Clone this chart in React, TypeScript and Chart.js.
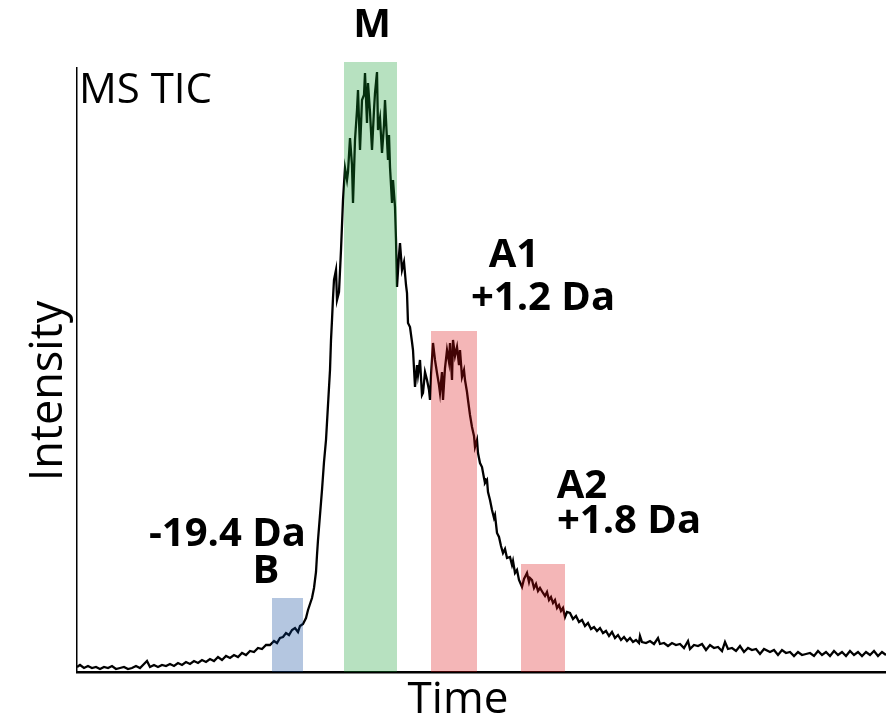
import React, { useEffect, useRef } from "react";
import { Chart, registerables } from "chart.js";

Chart.register(...registerables);

// Scan time (arbitrary units) and total ion current intensity (arbitrary units)
const scanTime: number[] = [
  0, 3, 7, 11, 15, 19, 23, 27, 31, 35, 39, 43, 47, 51, 55, 59, 63, 67, 70, 73,
  77, 81, 85, 89, 93, 97, 101, 105, 109, 113, 117, 121, 125, 129, 133, 137, 141, 145, 149, 153,
  157, 161, 165, 169, 173, 177, 181, 185, 189, 193, 197, 200, 203, 206, 209, 212, 215, 218, 221, 223,
  226, 229, 231, 233, 235, 237, 239, 240, 241, 243, 245, 247, 249, 251, 253, 254, 255, 256, 257, 259,
  260, 262, 264, 266, 268, 270, 271, 273, 275, 276, 278, 280, 281, 283, 285, 287, 288, 290, 291, 293,
  295, 297, 298, 300, 301, 303, 305, 307, 308, 310, 311, 312, 313, 315, 316, 318, 319, 320, 322, 323,
  325, 327, 329, 330, 331, 333, 335, 336, 338, 340, 341, 343, 345, 346, 348, 350, 352, 353, 354, 356,
  358, 360, 362, 363, 365, 366, 368, 370, 372, 373, 375, 376, 378, 380, 382, 383, 385, 387, 388, 390,
  391, 393, 395, 397, 398, 400, 401, 403, 405, 407, 408, 410, 411, 413, 415, 417, 418, 420, 422, 424,
  426, 428, 430, 433, 435, 436, 438, 440, 442, 445, 447, 448, 450, 452, 453, 455, 457, 459, 461, 463,
  466, 468, 470, 472, 474, 476, 478, 480, 482, 484, 486, 488, 490, 493, 496, 499, 502, 505, 508, 511,
  514, 517, 520, 523, 526, 529, 532, 535, 538, 541, 544, 547, 550, 553, 556, 559, 562, 563, 565, 569,
  573, 577, 581, 583, 587, 591, 595, 599, 603, 607, 611, 613, 617, 621, 625, 629, 633, 637, 641, 645,
  648, 651, 655, 659, 663, 667, 671, 675, 679, 683, 687, 693, 697, 701, 705, 709, 713, 717, 721, 725,
  729, 733, 737, 741, 745, 749, 753, 757, 761, 765, 769, 773, 777, 781, 785, 789, 793, 797, 801, 805,
  809,
];

const ticIntensity: number[] = [
  5, 7, 4, 6, 4, 5, 3, 5, 4, 6, 3, 4, 5, 3, 4, 6, 4, 8, 11, 5,
  7, 5, 7, 6, 8, 6, 9, 7, 10, 8, 11, 9, 12, 10, 13, 11, 15, 12, 16, 14,
  17, 15, 19, 17, 21, 20, 24, 23, 27, 27, 31, 29, 34, 35, 39, 37, 42, 44, 40, 46,
  48, 54, 62, 68, 74, 84, 100, 117, 132, 157, 182, 210, 232, 267, 302, 332, 352, 374, 392, 402,
  372, 380, 422, 472, 504, 492, 500, 534, 507, 469, 532, 562, 582, 522, 572, 577, 599, 549, 589, 560,
  522, 562, 579, 600, 542, 554, 519, 547, 572, 532, 512, 537, 505, 469, 492, 465, 432, 385, 417, 429,
  402, 410, 387, 379, 349, 345, 330, 322, 285, 307, 297, 312, 277, 279, 300, 292, 282, 272, 297, 329,
  312, 299, 287, 279, 300, 272, 304, 322, 310, 329, 292, 332, 316, 325, 307, 322, 295, 302, 292, 280,
  272, 257, 245, 236, 225, 232, 219, 209, 205, 194, 189, 192, 180, 172, 162, 154, 157, 139, 135, 126,
  119, 123, 114, 115, 107, 111, 99, 102, 92, 85, 93, 95, 99, 90, 94, 92, 84, 88, 81, 84,
  79, 76, 80, 72, 75, 69, 72, 64, 67, 61, 64, 55, 60, 59, 53, 56, 50, 52, 46, 49,
  43, 45, 41, 44, 39, 41, 36, 40, 34, 37, 32, 35, 31, 34, 30, 32, 29, 36, 30, 29,
  31, 28, 34, 28, 29, 26, 29, 27, 28, 24, 31, 23, 27, 26, 28, 22, 27, 24, 25, 21,
  30, 23, 24, 21, 26, 20, 24, 22, 23, 18, 23, 20, 22, 17, 22, 19, 20, 16, 20, 17,
  18, 19, 16, 21, 17, 20, 16, 21, 17, 20, 16, 21, 17, 20, 16, 20, 17, 21, 16, 20,
  17,
];

// Highlighted regions: start/end scan time, top intensity, colour
const regionNames: string[] = ["B", "M", "A1", "A2"];
const regionStart: number[] = [195, 267, 354, 444];
const regionEnd: number[] = [226, 320, 400, 488];
const regionTop: number[] = [74, 610, 341, 108];
const regionColors: string[] = [
  "rgba(5, 65, 152, 0.3)",
  "rgba(15, 155, 48, 0.3)",
  "rgba(218, 12, 18, 0.3)",
  "rgba(218, 12, 18, 0.3)",
];

const X_MAX = 809;
const Y_MAX = 604;

const overlayPlugin = {
  id: "regionOverlay",
  afterDatasetsDraw(chart: any) {
    const { ctx, scales } = chart;
    const xs = scales.x;
    const ys = scales.y;
    ctx.save();
    for (let i = 0; i < regionNames.length; i++) {
      const x0 = xs.getPixelForValue(regionStart[i]);
      const x1 = xs.getPixelForValue(regionEnd[i]);
      const yTop = ys.getPixelForValue(regionTop[i]);
      const yBot = ys.getPixelForValue(0);
      ctx.fillStyle = regionColors[i];
      ctx.fillRect(x0, yTop, x1 - x0, yBot - yTop);
    }
    ctx.restore();
  },
  afterDraw(chart: any) {
    const { ctx } = chart;
    ctx.save();
    ctx.fillStyle = "#000";
    ctx.textBaseline = "alphabetic";

    // Corner label
    ctx.font = "42px 'Open Sans'";
    ctx.textAlign = "left";
    ctx.fillText("MS TIC", 79, 103);

    // Axis titles
    ctx.font = "44px 'Open Sans'";
    ctx.textAlign = "center";
    ctx.fillText("Time", 458, 713);
    ctx.save();
    ctx.translate(62, 391);
    ctx.rotate(-Math.PI / 2);
    ctx.font = "45px 'Open Sans'";
    ctx.fillText("Intensity", 0, 0);
    ctx.restore();

    // Peak labels
    ctx.font = "bold 40px 'Open Sans'";
    ctx.textAlign = "center";
    ctx.fillText("M", 372, 37);
    ctx.fillText("A1", 514, 267);
    ctx.fillText("+1.2 Da", 543, 310);
    ctx.fillText("A2", 582, 498);
    ctx.fillText("+1.8 Da", 629, 533);
    ctx.fillText("B", 266, 583);
    ctx.textAlign = "right";
    ctx.fillText("-19.4 Da", 306, 546);
    ctx.restore();
  },
};

export default function App() {
  const canvasRef = useRef<HTMLCanvasElement | null>(null);

  useEffect(() => {
    if (!canvasRef.current) return;
    const points = scanTime.map((t, i) => ({ x: t, y: ticIntensity[i] }));
    const chart = new Chart(canvasRef.current, {
      type: "line",
      data: {
        datasets: [
          {
            label: "MS TIC",
            data: points,
            borderColor: "#000",
            borderWidth: 2.3,
            pointRadius: 0,
            tension: 0,
            fill: false,
            clip: false as any,
          },
        ],
      },
      options: {
        animation: false,
        responsive: false,
        maintainAspectRatio: false,
        events: [],
        layout: { padding: { left: 77, top: 68, right: 0, bottom: 49 } },
        plugins: {
          legend: { display: false },
          tooltip: { enabled: false },
          title: { display: false },
        },
        scales: {
          x: {
            type: "linear",
            min: 0,
            max: X_MAX,
            ticks: { display: false },
            grid: { display: false },
            border: { display: true, color: "#000", width: 2.5 },
            afterFit: (s: any) => {
              s.height = 0;
            },
          },
          y: {
            type: "linear",
            min: 0,
            max: Y_MAX,
            ticks: { display: false },
            grid: { display: false },
            border: { display: true, color: "#000", width: 1.5 },
            afterFit: (s: any) => {
              s.width = 0;
            },
          },
        },
      },
      plugins: [overlayPlugin],
    });
    return () => chart.destroy();
  }, []);

  return (
    <div
      style={{
        position: "fixed",
        left: 0,
        top: 0,
        width: 886,
        height: 721,
        background: "#fff",
      }}
    >
      <canvas ref={canvasRef} width={886} height={721} />
    </div>
  );
}
